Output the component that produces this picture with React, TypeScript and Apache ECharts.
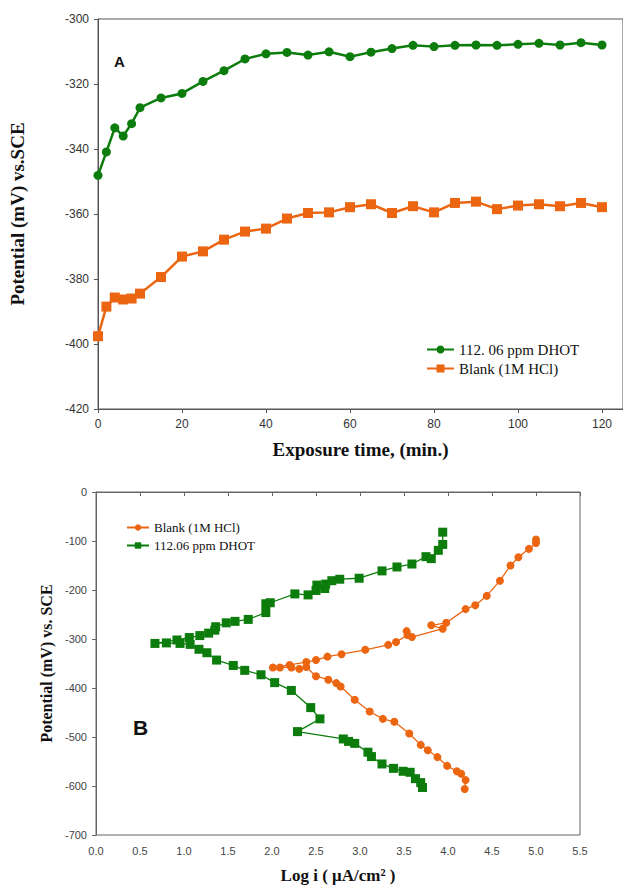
import React, { useEffect, useRef } from "react";
import * as echarts from "echarts";

const GREEN = "#0c7d0c";
const ORANGE = "#ec6511";

// Panel A: open-circuit potential vs. exposure time
const exposureMinutes = [0, 2, 4, 6, 8, 10, 15, 20, 25, 30, 35, 40, 45, 50, 55, 60, 65, 70, 75, 80, 85, 90, 95, 100, 105, 110, 115, 120];
const ocpDhot = [-348.1, -340.9, -333.5, -336.0, -332.2, -327.3, -324.3, -322.9, -319.2, -315.9, -312.3, -310.7, -310.3, -311.1, -310.1, -311.6, -310.2, -309.1, -308.1, -308.5, -308.1, -308.0, -308.1, -307.8, -307.5, -308.0, -307.3, -308.0];
const ocpBlank = [-397.6, -388.5, -385.7, -386.3, -386.0, -384.5, -379.4, -373.1, -371.5, -367.9, -365.4, -364.5, -361.4, -359.7, -359.5, -357.9, -357.0, -359.7, -357.6, -359.5, -356.6, -356.2, -358.5, -357.4, -357.0, -357.6, -356.6, -357.9];
const ocpTicksA = [-420, -300, 20];

// Panel B: potentiodynamic polarization (scan order, cathodic end first)
const blankLogI = [4.19, 4.2, 4.15, 4.1, 3.99, 3.88, 3.77, 3.69, 3.56, 3.39, 3.26, 3.11, 2.94, 2.78, 2.73, 2.64, 2.5, 2.39, 2.31, 2.22, 2.09, 2.01, 2.2, 2.39, 2.5, 2.63, 2.79, 3.06, 3.32, 3.41, 3.54, 3.53, 3.59, 3.94, 3.81, 3.98, 4.2, 4.31, 4.44, 4.59, 4.71, 4.8, 4.92, 5.0, 5.0];
const blankE = [-606, -588, -575, -570, -559, -541, -527, -516, -493, -469, -463, -448, -424, -397, -390, -383, -376, -357, -361, -358, -358, -358, -353, -347, -343, -336, -331, -322, -312, -306, -292, -284, -296, -279, -272, -267, -239, -231, -212, -181, -150, -133, -116, -104, -97];
const dhotLogI = [3.71, 3.69, 3.63, 3.57, 3.49, 3.38, 3.25, 3.13, 3.09, 2.94, 2.87, 2.81, 2.29, 2.545, 2.44, 2.22, 2.03, 1.875, 1.69, 1.56, 1.37, 1.26, 1.17, 1.07, 0.955, 0.8, 0.67, 0.92, 1.06, 1.18, 1.28, 1.35, 1.36, 1.48, 1.58, 1.73, 1.93, 1.93, 1.98, 2.26, 2.41, 2.5, 2.51, 2.6, 2.61, 2.68, 2.77, 2.99, 3.25, 3.42, 3.59, 3.75, 3.81, 3.89, 3.94, 3.94];
const dhotE = [-603, -593, -585, -572, -570, -564, -555, -540, -531, -513, -509, -504, -489, -463, -440, -405, -389, -373, -364, -354, -343, -328, -321, -311, -309, -308, -309, -302, -297, -293, -288, -282, -275, -267, -264, -260, -246, -228, -226, -208, -210, -201, -190, -197, -188, -181, -178, -176, -161, -153, -147, -132, -136, -119, -107, -82];

const SERIF = "Liberation Serif";
const SANS = "Liberation Sans";

function pairs(xs: number[], ys: number[]) {
  return xs.map((x, i) => [x, ys[i]]);
}

function optionA(): any {
  return {
    animation: false,
    grid: { left: 98, top: 19, width: 526, height: 390, show: true, borderColor: "#555", borderWidth: 1 },
    xAxis: {
      type: "value", min: 0, max: 125, interval: 20,
      axisLine: { lineStyle: { color: "#555" } },
      axisTick: { length: 4, lineStyle: { color: "#555" } },
      splitLine: { show: false },
      axisLabel: {
        fontFamily: SANS, fontSize: 12, color: "#333", margin: 9, showMaxLabel: false,
        formatter: (v: number) => (v % 20 === 0 && v <= 120 ? String(v) : ""),
      },
      name: "Exposure time, (min.)", nameLocation: "middle", nameGap: 31,
      nameTextStyle: { fontFamily: SERIF, fontWeight: "bold", fontSize: 19, color: "#111" },
    },
    yAxis: {
      type: "value", min: ocpTicksA[0], max: ocpTicksA[1], interval: ocpTicksA[2],
      axisLine: { show: true, lineStyle: { color: "#555" } },
      axisTick: { show: true, length: 4, lineStyle: { color: "#555" } },
      splitLine: { show: false },
      axisLabel: { fontFamily: SANS, fontSize: 12, color: "#333", margin: 9 },
      name: "Potential (mV) vs.SCE", nameLocation: "middle", nameGap: 71,
      nameTextStyle: { fontFamily: SERIF, fontWeight: "bold", fontSize: 19, color: "#111" },
    },
    legend: {
      left: 421, top: 337, orient: "vertical", itemWidth: 27, itemHeight: 10, itemGap: 4,
      textStyle: { fontFamily: SERIF, fontSize: 15, color: "#111" },
      data: ["112. 06 ppm DHOT", "Blank (1M HCl)"],
    },
    graphic: [
      { type: "text", left: 114, top: 54, style: { text: "A", font: "bold 15px 'Liberation Sans'", fill: "#111" } },
    ],
    series: [
      {
        name: "112. 06 ppm DHOT", type: "line", data: pairs(exposureMinutes, ocpDhot),
        symbol: "circle", symbolSize: 9, color: GREEN, lineStyle: { width: 2.5, color: GREEN }, clip: false,
      },
      {
        name: "Blank (1M HCl)", type: "line", data: pairs(exposureMinutes, ocpBlank),
        symbol: "rect", symbolSize: 10, color: ORANGE, lineStyle: { width: 2.5, color: ORANGE }, clip: false,
      },
    ],
  };
}

function optionB(): any {
  return {
    animation: false,
    grid: { left: 96, top: 27, width: 484, height: 347, show: true, borderColor: "#666", borderWidth: 1 },
    xAxis: {
      type: "value", min: 0, max: 5.5, interval: 0.5,
      axisLine: { lineStyle: { color: "#666" } },
      axisTick: { length: 4, lineStyle: { color: "#666" } },
      splitLine: { show: false },
      axisLabel: { fontFamily: SANS, fontSize: 11, color: "#444", margin: 10, formatter: (v: number) => v.toFixed(1) },
      name: "Log i ( μA/cm² )", nameLocation: "middle", nameGap: 32,
      nameTextStyle: { fontFamily: SERIF, fontWeight: "bold", fontSize: 17, color: "#111" },
    },
    yAxis: {
      type: "value", min: -700, max: 0, interval: 100,
      axisLine: { show: true, lineStyle: { color: "#666" } },
      axisTick: { show: true, length: 4, lineStyle: { color: "#666" } },
      splitLine: { show: false },
      axisLabel: { fontFamily: SANS, fontSize: 11, color: "#444", margin: 9 },
      name: "Potential (mV) vs. SCE", nameLocation: "middle", nameGap: 40,
      nameTextStyle: { fontFamily: SERIF, fontWeight: "bold", fontSize: 16, color: "#111" },
    },
    legend: {
      left: 121, top: 51, orient: "vertical", itemWidth: 22, itemHeight: 8, itemGap: 5,
      textStyle: { fontFamily: SERIF, fontSize: 13, color: "#111" },
      data: ["Blank (1M HCl)", "112.06 ppm DHOT"],
    },
    graphic: [
      { type: "text", left: 133, top: 252, style: { text: "B", font: "bold 21px 'Liberation Sans'", fill: "#111" } },
    ],
    series: [
      {
        name: "Blank (1M HCl)", type: "line", data: pairs(blankLogI, blankE),
        symbol: "circle", symbolSize: 8, color: ORANGE, lineStyle: { width: 1.3, color: ORANGE },
      },
      {
        name: "112.06 ppm DHOT", type: "line", data: pairs(dhotLogI, dhotE),
        symbol: "rect", symbolSize: 9, color: GREEN, lineStyle: { width: 1.3, color: GREEN },
      },
    ],
  };
}

function Chart({ option, style }: { option: () => any; style: React.CSSProperties }) {
  const ref = useRef<HTMLDivElement>(null);
  useEffect(() => {
    if (!ref.current) return;
    const chart = echarts.init(ref.current, undefined, { renderer: "svg" });
    chart.setOption(option());
    return () => chart.dispose();
  }, [option]);
  return <div ref={ref} style={style} />;
}

export default function App() {
  return (
    <div style={{ position: "absolute", left: 0, top: 0, width: 623, height: 889, background: "#fff", overflow: "hidden" }}>
      <Chart option={optionA} style={{ position: "absolute", left: 0, top: 0, width: 623, height: 465 }} />
      <Chart option={optionB} style={{ position: "absolute", left: 0, top: 465, width: 623, height: 424 }} />
    </div>
  );
}
